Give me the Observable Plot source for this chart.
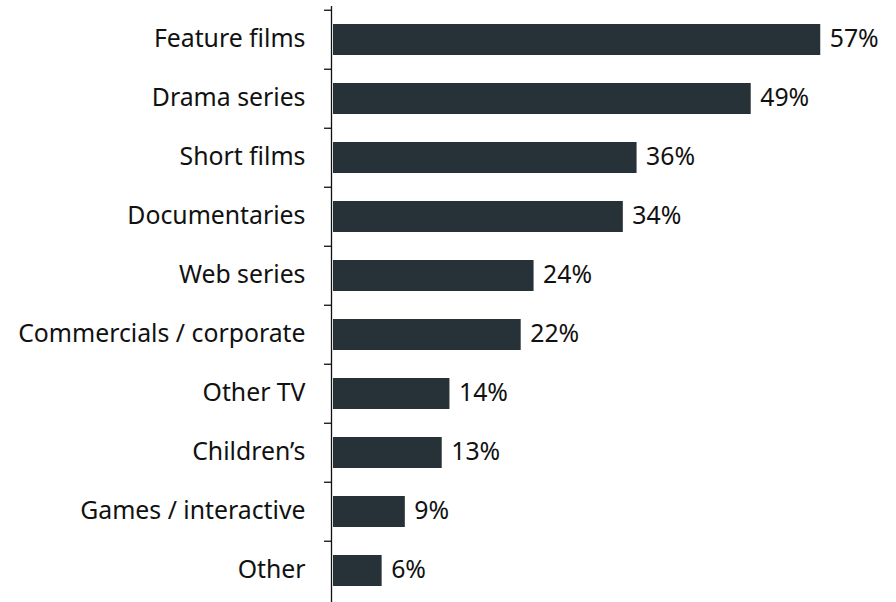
<!DOCTYPE html>
<html>
<head>
<meta charset="utf-8">
<script src="https://cdn.jsdelivr.net/npm/d3@7"></script>
<script src="https://cdn.jsdelivr.net/npm/@observablehq/plot@0.6"></script>
<style>
  html, body { margin: 0; padding: 0; background: #fff; }
  #chart { width: 896px; height: 602px; }
</style>
</head>
<body>
<div id="chart"></div>
<script>
const categories = ["Feature films", "Drama series", "Short films", "Documentaries", "Web series",
  "Commercials / corporate", "Other TV", "Children’s", "Games / interactive", "Other"];
const shares = [57, 48.9, 35.6, 34, 23.6, 22.1, 13.8, 12.9, 8.6, 5.9];
const labels = ["57%", "49%", "36%", "34%", "24%", "22%", "14%", "13%", "9%", "6%"];

const data = categories.map((c, i) => ({category: c, share: shares[i], label: labels[i]}));

const font = "'Noto Sans', sans-serif";
const fs = 24.8;
const chart = Plot.plot({
  width: 896,
  height: 602,
  marginTop: 6,
  marginBottom: -1,
  marginLeft: 331,
  marginRight: 50,
  style: {fontFamily: font, fontSize: fs + "px", color: "#111", background: "#fff"},
  x: {domain: [0, 60], axis: null},
  y: {domain: categories, paddingInner: 0.48, paddingOuter: 0.24, axis: null},
  marks: [
    Plot.barX(data, {x: "share", y: "category", fill: "#263238", insetLeft: 2}),
    Plot.text(data, {x: "share", y: "category", text: "label", textAnchor: "start", dx: 9,
      fill: "#111", fontSize: fs, dy: -1}),
    Plot.axisY({tickSize: 0, tickPadding: 26, fontSize: fs, fill: "#111", label: null, dy: -1}),
    Plot.axisY({tickSize: 7, tickFormat: () => "", label: null, dy: -29.75, strokeWidth: 1.3, stroke: "#111"}),
    Plot.ruleX([0], {stroke: "#111", strokeWidth: 1.3})
  ]
});
document.getElementById("chart").append(chart);
</script>
</body>
</html>
